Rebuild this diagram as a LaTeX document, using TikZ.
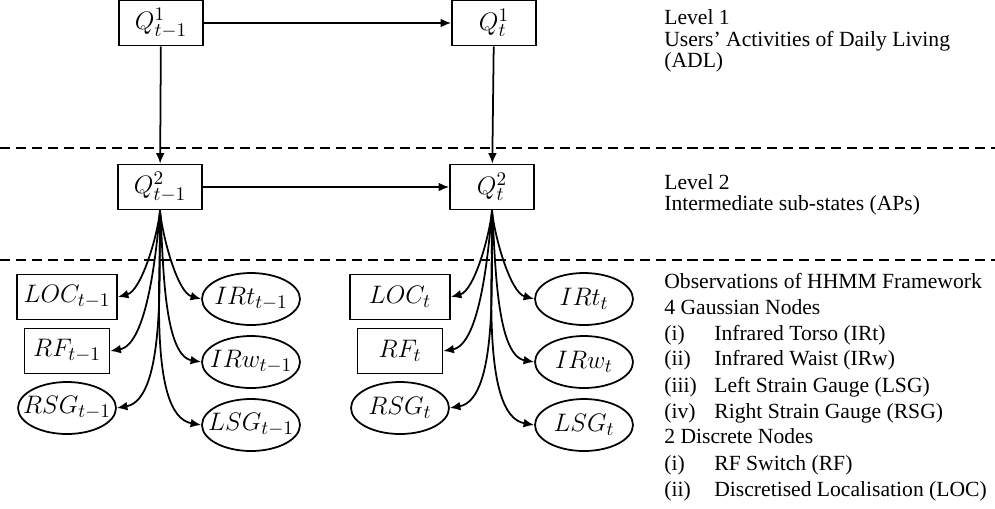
\documentclass[tikz,border=0pt]{standalone}
\usepackage{fontspec}
\setmainfont{Liberation Serif}
\usepackage{tikz}
\usetikzlibrary{arrows.meta,shapes.geometric}

\newcommand{\obsname}[1]{\makebox[0pt]{$#1$}}

\begin{document}
\begin{tikzpicture}[x=0.02cm,y=0.02cm,
                    state/.style={draw,line width=1pt,minimum width=1.68cm,minimum height=0.9cm,inner sep=0pt,font=\fontsize{15.5}{18}\selectfont},
                    discrete/.style={draw,line width=1pt,minimum height=0.9cm,inner sep=0pt,font=\fontsize{15.5}{18}\selectfont},
                    gauss/.style={draw,ellipse,line width=1pt,minimum width=1.96cm,minimum height=1.04cm,inner sep=0pt,font=\fontsize{15.5}{18}\selectfont},
                    link/.style={line width=1pt,-{Latex[length=6pt,width=5pt]}},
                    fan/.style={link,looseness=0.65},
                    level/.style={line width=1.1pt,dash pattern=on 5.7pt off 3.4pt},
                    caption/.style={anchor=base west,inner sep=0pt,font=\fontsize{12.3}{14}\selectfont}]

\useasboundingbox (0,0) rectangle (995,-508);

% level separators
\draw [level] (0,-148) -- (995,-148);
\draw [level] (0,-260) -- (995,-260);

% level 1 and level 2 states
\node [state] (q1a) at (161,-23) {$Q^1_{t-1}$};
\node [state] (q1b) at (494,-23) {$Q^1_{t}$};
\node [state] (q2a) at (160,-187) {$Q^2_{t-1}$};
\node [state] (q2b) at (492,-187) {$Q^2_{t}$};

\draw [link] (q1a) -- (q1b);
\draw [link] (q2a) -- (q2b);
\draw [link] (q1a) -- (q2a);
\draw [link] (q1b) -- (q2b);

% observations at t-1
\node [discrete,minimum width=2cm] (loca) at (67,-297) {$LOC_{t-1}$};
\node [discrete,minimum width=1.7cm] (rfa) at (67,-351) {$RF_{t-1}$};
\node [gauss] (rsga) at (67,-408) {\obsname{RSG_{t-1}}};
\node [gauss] (irta) at (251,-299) {\obsname{IRt_{t-1}}};
\node [gauss] (irwa) at (251,-362) {\obsname{IRw_{t-1}}};
\node [gauss] (lsga) at (251,-425) {\obsname{LSG_{t-1}}};

% observations at t
\node [discrete,minimum width=2cm] (locb) at (400,-297) {$LOC_{t}$};
\node [discrete,minimum width=1.7cm] (rfb) at (400,-351) {$RF_{t}$};
\node [gauss] (rsgb) at (400,-408) {\obsname{RSG_{t}}};
\node [gauss] (irtb) at (584,-299) {\obsname{IRt_{t}}};
\node [gauss] (irwb) at (584,-362) {\obsname{IRw_{t}}};
\node [gauss] (lsgb) at (584,-425) {\obsname{LSG_{t}}};

\draw [fan] (q2a.south) to [out=-95,in=15] (loca.east);
\draw [fan] (q2a.south) to [out=-95,in=10] (rfa.east);
\draw [fan] (q2a.south) to [out=-92,in=10] (rsga.east);
\draw [fan] (q2a.south) to [out=-85,in=165] (irta.west);
\draw [fan] (q2a.south) to [out=-85,in=170] (irwa.west);
\draw [fan] (q2a.south) to [out=-88,in=170] (lsga.west);

\draw [fan] (q2b.south) to [out=-95,in=15] (locb.east);
\draw [fan] (q2b.south) to [out=-95,in=10] (rfb.east);
\draw [fan] (q2b.south) to [out=-92,in=10] (rsgb.east);
\draw [fan] (q2b.south) to [out=-85,in=165] (irtb.west);
\draw [fan] (q2b.south) to [out=-85,in=170] (irwb.west);
\draw [fan] (q2b.south) to [out=-88,in=170] (lsgb.west);

% descriptions
\node [caption] (lvla) at (664,-24) {Level 1};
\node [caption] (lvlatxt) at (664,-46) {Users' Activities of Daily Living};
\node [caption] (lvlaabb) at (664,-67) {(ADL)};
\node [caption] (lvlb) at (664,-189) {Level 2};
\node [caption] (lvlbtxt) at (664,-210) {Intermediate sub-states (APs)};

\node [caption] (obs) at (664,-288) {Observations of HHMM Framework};
\node [caption] (gauss) at (664,-314) {4 Gaussian Nodes};
\node [caption] (ga) at (664,-340) {(i)};
\node [caption] (gatxt) at (714,-340) {Infrared Torso (IRt)};
\node [caption] (gb) at (664,-365) {(ii)};
\node [caption] (gbtxt) at (714,-365) {Infrared Waist (IRw)};
\node [caption] (gc) at (664,-392) {(iii)};
\node [caption] (gctxt) at (714,-392) {Left Strain Gauge (LSG)};
\node [caption] (gd) at (664,-418) {(iv)};
\node [caption] (gdtxt) at (714,-418) {Right Strain Gauge (RSG)};
\node [caption] (disc) at (664,-443) {2 Discrete Nodes};
\node [caption] (da) at (664,-470) {(i)};
\node [caption] (datxt) at (714,-470) {RF Switch (RF)};
\node [caption] (db) at (664,-496) {(ii)};
\node [caption] (dbtxt) at (714,-496) {Discretised Localisation (LOC)};

\end{tikzpicture}
\end{document}
